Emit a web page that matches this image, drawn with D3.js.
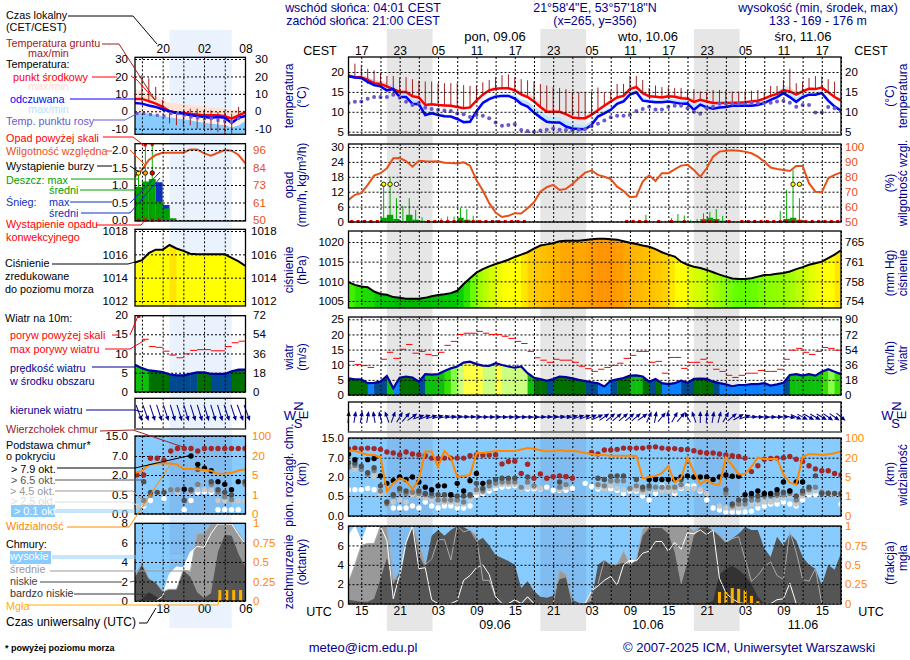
<!DOCTYPE html>
<html>
<head>
<meta charset="utf-8">
<script src="https://cdn.jsdelivr.net/npm/d3@7/dist/d3.min.js"></script>
<style>
body { margin: 0; background: #fff; }
text { font-family: "Liberation Sans", Arial, sans-serif; font-size: 12px; }
</style>
</head>
<body>
<div class="graphic"></div>
<script>
const n = null;

// main meteogram, hourly, starts 08.06 15:00 CEST
let tempMid = [19.1,18.7,18.7,18,17.2,17,16.4,15.7,15,15,
  13.9,13.6,11.7,11.9,11.7,11.6,11.5,11.2,10.9,11.1,
  12.8,14.3,15.4,15.8,15.9,15.9,15.4,14.4,13.7,12.6,
  11.2,10,10,10,9.4,8.6,8.4,8.4,9.2,10.4,
  11.5,12.6,13.6,14,15.7,16.2,14.7,13.9,13.8,13.6,
  13.9,13.8,13.4,13.3,12.5,13,12.6,12.2,12.2,12.2,
  12.3,12.3,12.4,12.6,12.8,13.3,14,14.5,15.4,15.1,
  14.3,15.1,15.8,15.7,16.1,14.9,13.7,12.8];
let tempFeel = [18.9,18.6,18.5,17.5,16.7,16.4,15.4,15.7,13.7,13.7,
  12,11.9,9.2,9.6,9.2,8.9,8.8,8.2,7.4,7.5,
  10.1,12.2,13.2,13.8,14,14,13.3,12,11.3,9.8,
  8.6,7.5,7.3,7.3,6.3,5.8,5.7,5.6,6.7,8.8,
  9.6,10.5,12,12.6,14.3,14.9,12.8,12.6,12.4,12.4,
  12.6,12.3,12,12.1,10.5,11.8,11.1,10.8,11.1,11.2,
  11.5,11.5,11.5,11.5,11.7,12.2,13,13.7,14.7,13.7,
  12.5,13.7,14.3,14.3,14.7,12.8,11.3,10.3];
let tempSpread = [.3,.3,.5,.8,.9,.8,1,1,1,1,
  .8,.8,.6,.4,.4,.3,.3,.3,.3,.3,
  .3,.4,.4,.4,.4,.4,.6,.8,1,1.2,
  1.2,1,1,1,1,1,.8,.8,.8,.6,
  .5,.5,.4,.4,.6,.6,.5,.4,.4,.4,
  .6,.6,.6,.8,.9,.6,.5,.4,.4,.4,
  .4,.4,.4,.4,.4,.4,.4,.4,1,1.2,
  .8,.6,.4,.4,.4,.4,.4,.4];
let groundMax = [23.5,22.1,21.6,20.8,20.4,19.7,19,19,18.6,18.7,
  18.2,17.8,17.6,17.6,17.2,17.2,17.2,17.2,16.7,16.5,
  16.5,17.4,18,18.7,19.2,19.4,18.7,18.2,17.9,17.6,
  17,16.6,16.2,16,15.7,15,14.9,15,15.1,16.1,
  14.9,15.1,17,17,19,19,18,16,16.6,16.2,
  16.2,16,16,15.5,15.7,15.1,15,15.5,15.5,15.4,
  15.1,15.1,15.1,15.3,15.5,14.9,16.5,16.5,18,20.8,
  17.2,17.6,18.5,19,18.9,18.2,17.6,n];
let groundMin = [19,18.7,18.7,17,17,17,16,15,15,15,
  14,13.5,12,12,12,11.5,11.5,11,11,11,
  13,14,15,16,16,16,15,14.5,14,12.5,
  11,10,10,10,9.5,9,8.5,8.5,9,10.5,
  11.5,13,13.5,14,16,16,15,14,14,13.5,
  14,14,13.5,13,12.5,13,12.5,12,12,12,
  12.5,12.5,12.5,12.5,13,13,14,14.5,15.5,15,
  14.5,15,16,15.5,16,15,14,n];
let dewPoint = [12.2,12.5,12.6,13.3,13.7,13.7,13.7,14.3,13.5,12.5,
  11.7,12.2,11,10.7,10.5,10.3,10.2,9.6,9.4,8.7,
  9.2,9,8.4,7.3,6.5,6.7,6.9,5.4,5.2,5,
  5.3,5.5,5.8,5.5,5.4,5.3,5.5,5.7,6.4,7,
  7.8,8.6,9,9,9.2,10.2,10.7,11.3,10.6,10.6,
  11.2,11.5,11.5,10.9,10,9.5,10.9,11.3,12,12,
  12,12,12,12.2,12.2,12.3,12.3,12.6,12.8,12.3,
  11.3,11.7,11.7,9.8,9.8,11.2,10.9,10.1];
let humidity = [64.5,67.9,69,74.6,80.8,82.4,85.7,92.4,92.6,90.6,
  86.8,90.8,90.4,90.2,90.4,89.5,89.2,89,89.7,87.5,
  77.9,70.8,62.3,56,53,53.8,55.6,55.4,58.9,62.9,
  70,73,74.6,71.2,71.9,75.2,79,82.8,84.2,81.3,
  80,78.4,73.4,70.5,66.3,66.7,76.8,81,77.2,82.4,
  82.4,85,87.5,88,84.6,80,85.7,93.5,96.9,97.5,
  97.8,97.5,96.9,95.8,93.5,90.2,86.2,85.3,84.6,83.9,
  87.3,87.3,75.7,70,69.6,79,81.3,83];

// precipitation is per hour interval, so one value less
let rainMax = [0,0,0,0,0,16,17.4,9.4,6.3,9.4,
  4.7,1.7,0,0,1.3,2,2,5.4,5,2.3,
  0,0,0,0,0,0,0,0,0,0,
  0,0,0,0,0,0,0,0,0,0,
  0,0,0,0,0,0,2.7,0,.3,.3,
  1.3,3,2.4,.7,1,3.3,3.9,5,2.3,0,
  0,0,0,0,0,0,0,4.3,12.7,20.8,
  9.4,0,0,0,0,0,0];
let rainMean = [0,0,0,0,0,1.5,2.7,1,0,2.7,
  .7,.3,0,0,.1,.1,.1,1.5,.7,.3,
  0,0,0,0,0,0,0,0,0,0,
  0,0,0,0,0,0,0,0,0,0,
  0,0,0,0,0,0,.2,0,0,0,
  .1,.3,.2,.1,.2,1,1.5,1,.3,0,
  0,0,0,0,0,0,0,.2,1,1.5,
  .7,0,0,0,0,0,0];
let convective = [0,1,2,3,4,12,13,14,15,16,17,18,19,20,21,22,23,24,25,26,27,
  43,44,45,46,48,50,52,55,56,57,59,61,62,63,64,65,66,67,68,69,70,71,72,73,74,75,76];
let stormHours = [5,6,7,69,70];
let stormColors = ["#ffff00","#ffff00","#ffffff","#ffff00","#ffff00"];

let pressure = [1009.8,1009.1,1008.7,1008.5,1007.4,1006.8,1006.6,1006,1005.8,1005.6,
  1005.6,1005.6,1005.8,1006.2,1006.5,1006.7,1007,1007.6,1009.3,1010.8,
  1012.2,1013.1,1013.8,1014.4,1014.9,1015.5,1016.2,1016.8,1017.4,1018.3,
  1019.1,1019.4,1019.7,1020.2,1020.3,1020.3,1020.3,1020.5,1020.7,1020.8,
  1020.8,1020.7,1020.6,1020.2,1019.8,1019.5,1019.1,1018.8,1018.2,1017.4,
  1016.8,1016.3,1015,1014.2,1013.7,1013.4,1012.9,1012.3,1011.7,1011.2,
  1010.7,1010.6,1010.6,1010.8,1011.2,1011.6,1011.7,1011.9,1012.1,1012.5,
  1013.1,1013.6,1014.2,1014.6,1015,1015.9,1016.8,1017.9];

let windSpeed = [5.5,5.2,5.2,3.9,4,4.4,6.3,2.2,5.7,6.1,
  5.8,4.4,6.9,6.7,6.9,7.9,8.8,9.4,10.7,11,
  10.2,9.7,9.6,10.5,9.9,9.4,9,9.4,7.2,5.7,
  5.3,4.7,5.3,6.1,5.9,5.5,5,4.6,4.2,3.9,
  2.8,4.7,5.2,5.6,6.4,6.5,6.1,4.4,5.3,3.9,
  3.6,3.9,4.7,4,5.3,5.4,5.3,4.4,3.9,3.5,
  2.9,3.3,3.3,3.6,3.6,3.9,3.1,3.5,4,6.6,
  6.9,6.4,6.9,6.4,7.7,8.5,7.7,6.9];
let windGust = [11.1,10.1,9.7,9.1,n,11.8,14.1,12.1,15.1,16.7,
  13.8,14.4,13.4,13,14.1,16.4,17.7,20,20.4,20.4,
  21,20.4,20,20,19.4,18.7,17.7,17,14.4,12.3,
  11.5,10.8,11.8,11.5,11.5,10.8,9.5,8.7,7.8,8.5,
  9.1,9.8,10.5,12.1,13.1,14.4,14.4,10.8,11.1,7.2,
  12.4,12.4,8.8,10.8,10.8,11.8,10.8,8.5,7.8,6.5,
  5.8,6.5,7.2,7.2,8.1,7.8,7.8,8.5,11.8,14.8,
  15.4,14.1,13.4,14.4,15.7,15.4,14.8];
let windDir = [5,10,10,10,-10,-15,-20,20,30,40,
  55,70,70,72,75,78,80,80,82,85,
  88,90,90,90,92,92,92,92,92,90,
  88,85,82,80,78,75,72,70,68,65,
  55,50,50,50,50,50,55,25,10,40,
  -5,30,40,-30,-20,0,5,10,15,30,
  50,60,70,85,90,92,90,88,85,100,
  115,118,120,120,120,125,125,130];

let baseTop = [10.6,10.9,10.7,10.9,10.7,10.4,9.3,8.9,8.2,9.3,
  8.5,8.2,7.8,6.9,6.8,6.9,6.9,6.9,6.9,7.8,
  8.1,8.1,8.1,8.2,5.4,6,6.1,2.9,5.3,1.9,
  2.8,1.9,2.1,2.3,2.1,1.9,n,n,9.1,8.5,
  10.1,10.1,10.4,10.9,10.9,10.9,10.9,11.3,11.4,10.9,
  10.7,10.7,10.3,10.3,9.8,9.2,8.9,8.9,8.5,8.1,
  7.8,7.5,6.9,3.4,4.9,6.6,6.8,6.9,7,7.5,
  6.6,6,4.9,4.1,3.6,3.6,2.9,2.5];
let baseBlack = [8.4,6.5,n,6.5,6.8,2.3,1.5,1.7,2,1.8,
  2,1.6,1.2,1,1.3,1.3,.6,1.5,.9,1.7,
  2.9,1.5,n,n,n,n,n,n,n,n,
  n,n,n,n,n,n,n,n,n,n,
  n,n,n,n,n,n,n,1.8,1.8,1.8,
  1.8,1.8,2,2.3,2,2,2,1.8,2,2.5,
  2.2,2.2,.6,.7,.9,.7,.7,1,1.6,.9,
  1.6,1.6,n,n,n,n,n,n];
let baseDark = [5.7,5.6,4.8,3.1,4.4,1.3,.35,.6,1.1,.9,
  n,.9,.7,.7,.6,.6,.6,.5,.5,.6,
  1.5,1.1,1.6,1.8,1.9,1.9,1.9,n,2,n,
  n,n,n,1.6,2.1,n,n,n,n,1.9,
  1.8,2.2,2.3,2.3,n,1.8,1.2,1.3,n,n,
  n,n,1.8,n,n,n,n,n,n,1,
  .3,.4,.4,.5,.5,.6,.6,.7,.8,.9,
  .5,.9,1.2,2.3,.7,.7,.7,.7];
let baseGrey = [4.5,5,4,2.7,3.7,.9,.3,.5,.9,.7,
  .8,.7,.6,.5,.4,.4,.4,.4,.35,.5,
  1,.9,1.3,1.5,1.6,1.6,1.6,1.2,1.6,1.3,
  n,n,n,1.2,1.4,n,n,n,n,1.4,
  1.3,1.7,1.7,1.7,1.1,1.3,1,1.1,1.2,1.2,
  1.2,1.2,1.4,n,n,n,n,n,n,.7,
  .25,.3,.3,.4,.4,.5,.5,.55,.6,.7,
  .4,.7,1,1.2,.8,.75,.7,.6];
let baseLight = [n,4,n,n,2.2,.7,.3,.35,.4,.35,
  .6,.5,.45,.4,.35,.35,.35,.3,.3,.4,
  .8,.8,1.1,1.3,1.4,1.4,1.4,1.1,1.2,1.2,
  1.1,n,n,1,1.2,n,n,n,n,1.2,
  1.1,1.3,1.1,1,1,1,.8,.9,1,.9,
  .9,.9,1.2,1.1,1.1,1,.7,n,.25,.2,
  .2,.2,.25,.3,.3,.35,.35,.4,.45,.5,
  .3,.5,.8,.9,.8,.7,.65,.6];
let baseWhite = [1,1,1,1.1,1,.9,.3,.2,.2,.2,
  .25,.2,.35,.25,.2,.25,.25,.2,.2,.25,
  .55,.7,.9,1.1,1.2,1.25,1.3,1.2,1.05,1.05,
  1.05,1.2,.95,.95,.95,1.1,n,1.5,1.25,1.05,
  1.1,1.05,.95,.7,.9,.9,.5,.4,.7,1.3,
  1.2,.7,1.1,1.3,1.3,.9,.4,.2,.15,.1,
  .1,.1,.1,.12,.2,.25,.3,.3,.35,.3,
  .25,.4,.6,.6,.7,.65,.65,.3];
let visibility = [47,47,39,31,31,23,2,3.7,4.7,4.2,
  2.4,4.4,45,45,13,47,20,5,5.8,6.5,
  38,40,43,47,47,47,47,53,59,56,
  50,46,47,50,47,47,45,39,35,31,
  31,28,28,28,28,27,4.7,5,5.8,8,
  13.5,3.9,4.7,21,9,3.5,4.4,3.5,3.4,21,
  14,7,7.5,13,21,19,19,19,7,3.8,
  3.4,25,34,34,31,34,38,45];

let cloudHigh = [7,8,6.4,8,8,8,6.5,.5,3,6.3,
  8,3.6,3.7,.4,0,0,0,.3,2.4,2.9,
  3.7,4,3,.7,0,0,.4,0,.7,0,
  0,0,0,0,0,0,0,0,1.3,1.8,
  2.4,2.8,1.9,4,4.5,4.4,5.2,5.4,6.4,6.4,
  5.4,6.3,5.6,7.3,7.2,7.6,7.1,7.6,2.6,1.1,
  .5,.1,0,0,0,0,0,.4,.5,2.1,
  0,0,0,0,0,0,0,0];
let cloudMid = [2.2,4,6,6.2,6.2,8,8,2.6,2.5,6.3,
  8,6.3,4,4.6,6.6,6.6,4.5,8,7.4,7.6,
  7,2.4,2.4,.7,0,0,.4,0,.7,0,
  0,0,0,3.4,3,0,0,0,1.3,2,
  4.5,4,4,5.4,4,4.5,7.7,7.9,7.9,7.9,
  8,8,8,8,7.5,7.9,7.9,7.6,7,6.3,
  6.7,6.9,4.6,2.3,2.9,3.8,4.3,2.9,2.5,7.4,
  5.3,2.5,2.3,3.6,0,0,0,0];
let cloudLow = [.4,.3,.2,.2,.5,2.5,4.7,2,3.3,6.3,
  8,5,3.7,7,7.6,7,7.6,8,7.9,7.5,
  6.4,6.8,6,5,4.7,4.4,4,1.6,2.3,1.3,
  .7,.6,.8,2.5,2.7,.4,.1,0,.3,4,
  4.5,4,4,4.2,4,4.5,7,7.8,7.8,7.8,
  7.2,5.3,1.9,4.3,7,7.9,7.9,7.6,7,6.3,
  6.7,7.2,7.9,7.6,7.6,5.7,4.8,6.9,6,7.2,
  6.5,4.8,4,3.6,1.9,4,3.5,5.2];
let cloudVeryLow = [0,0,0,0,0,0,0,0,0,0,
  0,0,0,0,0,0,0,0,0,0,
  0,0,0,0,0,0,0,0,0,0,
  0,0,0,0,0,0,0,0,0,0,
  0,0,0,0,0,0,0,0,0,0,
  0,0,0,0,0,0,0,.3,3,3.6,
  3.9,3.5,2.9,2,.7,0,0,0,0,0,
  0,0,0,0,0,0,0,0];
let fogHours = [58,59,60,61,62,63,64];
let fogValues = [.15,.15,.2,.19,.17,.1,.03];

// small panel on the left, 16:00 to 08:00
let miniTempMid = [7.1,7.1,5.8,4.4,2.5,0,-.8,-.8,-1.5,-1.9,-2.3,-2.3,-2.3,-2.9,-4.2,-2.3,-.6];
let miniTempFeel = [4.8,4.4,3.3,2.5,1.2,0,-1,-1.3,-2.3,-2.7,-3.3,-3.7,-3.3,-3.7,-6.7,-3.7,-2.7];
let miniTempMax = [13,11.5,10,8.5,6.5,5,4.5,4,3.5,3,3,2.5,2,1.5,1,.5,.5];
let miniFeelMin = [-1,-1,-1.2,-2,-2.5,-3.5,-4,-4.5,-5,-6,-6.5,-7,-7.5,-8,-9,-8,-5.5];
let miniGroundMax = [n,20.8,18.9,14,6.5,0.6,-.4,-.4,1.5,1.5,.6,.6,-.4,-.4,-1.3,2.5,n];
let miniGroundMin = [n,5.4,5,6.5,.6,-7,-8,-9,-8,-10,-10,-11,-12,-13,-13,-5,n];
let miniDew = [-1.3,-1.3,-1.9,-2.3,-2.7,-1.3,-1.3,-2.3,-3.3,-3.8,-4.2,-4.2,-5.2,-5.6,-6.2,-4.2];
let miniHumidity = [78.5,82.9,89.4,92.7,94.2,94.2,94.2,94.2,96.4,96.4,93.8,92.3,94.2,96,95.5,92.7,87.2];
let miniRainMax = [1.4,2.15,2.15,n,n,n,n,n,n,n,n,n,n,n,n,n];
let miniRainMean = [.95,1.1,1.17,.52,.33,.05,0,0,0,0,0,0,0,0,0,0];
let miniSnowMax = [0,0,0,1.08,.43,0,0,0,0,0,0,0,0,0,0,0];
let miniConvective = [0,1,2,3];
let miniAboveScale = [1,2];
let miniStormColors = ["#ffff00","#ffa500","#ff0000"];
let miniPressure = [1015.3,1015.5,1016.1,1016.4,1016.4,1016.8,1016.5,1016.3,1016.05,1016,1016,1016,1016,1016,1015.7,1015.4,1015];
let miniWind = [7.1,6.2,5.6,5.4,5.2,4.6,4.3,4.3,4.7,5.1,5.1,4.7,4.7,4.7,5.4,5.8,5.8];
let miniGust = [n,13.7,11.8,11.6,10.6,9.6,8.9,9.9,10.8,11,11,10.7,10.7,11.8,12.8,13.2];
let miniDir = [160,160,162,162,162,163,163,163,163,163,163,163,163,162,162,160,160];
let miniTop = [2,2,6.4,6.4,5.9,9,10,10,10,9,10,10,10,10,10,10,10];
let miniBlack = [n,n,n,n,n,n,n,.93,7,4.8,3.8,3.1,1.5,1.3,.9,1.5,n];
let miniDark = [n,1.5,.7,.7,.7,n,n,.35,.9,3.5,n,1.5,.9,.7,.5,n,1.5];
let miniGrey = [n,.35,.5,n,n,.9,.9,n,.8,1.3,n,1.3,.7,.45,.37,n,1.3];
let miniLight = [.2,.25,n,n,n,.9,.7,n,.7,.9,.9,.85,.35,.35,.35,.35,.36];
let miniWhite = [n,.2,.35,n,.4,n,n,.1,.35,.7,.75,.7,.1,.1,.1,.1,n];
let miniVis = [6.7,8,13,14,14,14,13.5,10,9.7,9.5,9,8.4,6,6.2,6.7,8.5,9.5];
let miniHigh = [0,0,0,0,.5,2.8,3.5,3.4,5,5.6,5.5,6.9,7.9,7.9,7.9,6.8,5.8];
let miniMid = [2.5,3.8,2.3,1.9,1,1.2,1.2,3.2,3,6.9,6.9,7.9,7.9,7.9,7.9,7,5.9];
let miniLow = [2.6,3.9,2.3,1.9,1,1.2,1.2,3.1,2.5,.9,.3,.8,5,6.8,6.7,4.8,3.5];
let miniVeryLow = [0,.2,.9,.5,0,0,0,0,0,0,0,0,0,0,0,0,0];
let miniFogHours = [12,13,14,15];
let miniFogValues = [.14,.14,.14,.14];

let localLabels = ["17","23","05","11","17","23","05","11","17","23","05","11","17"];
let utcLabels = ["15","21","03","09","15","21","03","09","15","21","03","09","15"];
let nightStart = [6,30,54];
let nightEnd = [13.15,37.15,61.15];

let legendTexts = [
  [6,19,"Czas lokalny","#000"],[6,31,"(CET/CEST)","#000"],
  [6,47,"Temperatura gruntu","#a02020"],[28,57,"max/min","#a02020"],
  [6,68,"Temperatura:","#000"],[13,81,"punkt środkowy","#f00"],[28,90,"max/min","#ffdcd0"],
  [10,103,"odczuwana","#00f"],[28,113,"max/min","#b8e2ff"],[6,125,"Temp. punktu rosy","#6a5acd"],
  [6,142,"Opad powyżej skali","#f00"],[6,155,"Wilgotność względna","#e8501a"],
  [6,170,"Wystąpienie burzy","#000"],[6,184,"Deszcz: max","#00a000"],[49,194,"średni","#00a000"],
  [6,206,"Śnieg:","#1030c0"],[49,206,"max","#1030c0"],[49,217,"średni","#1030c0"],
  [6,228,"Wystąpienie opadu","#f00"],[6,241,"konwekcyjnego","#f00"],
  [5,267,"Ciśnienie","#000"],[5,280,"zredukowane","#000"],[5,293,"do poziomu morza","#000"],
  [5,322,"Wiatr na 10m:","#000"],[10,339,"poryw powyżej skali","#f00"],[10,353,"max porywy wiatru","#f00"],
  [10,372,"prędkość wiatru","#000090"],[10,385,"w środku obszaru","#000090"],
  [10,414,"kierunek wiatru","#000090"],[6,433,"Wierzchołek chmur","#a02020"],
  [6,449,"Podstawa chmur*","#000"],[6,460,"o pokryciu","#000"],
  [11,473,"> 7.9 okt.","#000"],[11,484,"> 6.5 okt.","#555"],[10,495,"> 4.5 okt.","#999"],[11,505,"> 2.5 okt.","#ddd"],
  [14,515,"> 0.1 okt.","#fff"],[6,530,"Widzialność","#ff8800"],
  [6,548,"Chmury:","#000"],[10,560,"wysokie","#fff"],[10,573,"średnie","#999"],
  [10,585,"niskie","#444"],[10,597,"bardzo niskie","#333"],[6,610,"Mgła","#ffb000"]
];
let leaders = [
  ["#000",[[68,16],[133,16],[157,44]]],
  ["#a02020",[[102,44],[119,44],[155,100]]],
  ["#f00",[[92,77],[117,77]]],["#f00",[[131,76],[137,80],[155,100]]],
  ["#00f",[[70,99],[135,99]]],
  ["#6a5acd",[[94,120],[125,120],[140,112]]],
  ["#f00",[[103,137],[133,137],[146,147]]],
  ["#e8501a",[[106,151],[112,151]]],["#e8501a",[[130,150],[145,165]]],
  ["#000",[[97,166],[112,166]]],["#000",[[130,166],[139,172]]],
  ["#00a000",[[71,179],[138,179]]],["#00a000",[[80,190],[140,190]]],
  ["#1030c0",[[70,202],[112,202]]],["#1030c0",[[130,203],[160,172]]],
  ["#1030c0",[[81,213],[130,213],[160,178]]],
  ["#f00",[[96,225],[141,225],[146,219]]],
  ["#000",[[52,264],[128,264],[135,262]]],
  ["#f00",[[112,335],[118,335]]],["#f00",[[130,335],[138,316]]],
  ["#f00",[[105,349],[130,349],[145,340]]],
  ["#000090",[[92,367],[135,367]]],
  ["#000090",[[86,410],[135,410],[142,412]]],
  ["#a02020",[[100,431],[133,430],[183,447]]],
  ["#000",[[57,468],[135,468],[192,455]]],
  ["#555",[[55,480],[143,480]]],
  ["#999",[[55,491],[133,491],[143,501]]],
  ["#ddd",[[55,502],[130,502],[137,505]]],
  ["#88ccff",[[55,510],[135,510]]],["#88ccff",[[55,512],[135,512]]],
  ["#ff8800",[[67,527],[129,527],[170,465]]],
  ["#88ccff",[[52,556],[185,556]]],["#88ccff",[[52,558],[185,558]]],
  ["#999",[[50,571],[190,571]]],
  ["#444",[[40,582],[122,582]]],["#444",[[130,582],[135,581]]],
  ["#333",[[74,594],[135,594],[150,595]]],
  ["#ffb000",[[27,605],[218,605],[220,593]]],
  ["#000",[[139,623],[147,623],[156,608]]]
];
// rotated axis titles: x of baseline, centre y, text
let sideTitles = [
  [293,96,"temperatura"],[306,97,"(°C)"],
  [293,185,"opad"],[306,185,"(mm/h, kg/m³/h)"],
  [293,270,"ciśnienie"],[306,270,"(hPa)"],
  [293,357,"wiatr"],[306,357,"(m/s)"],
  [293,475,"pion. rozciągł. chm."],[306,474,"(km)"],
  [293,572,"zachmurzenie"],[306,562,"(oktanty)"],
  [894,96,"(°C)"],[907,96,"temperatura"],
  [894,183,"(%)"],[907,183,"wilgotność wzgl."],
  [894,273,"(mm Hg)"],[907,273,"ciśnienie"],
  [894,358,"(km/h)"],[907,358,"wiatr"],
  [894,474,"(km)"],[907,475,"widzialność"],
  [894,563,"(frakcja)"],[907,558,"mgła"]
];

let svg = d3.select(".graphic").append("svg").attr("width", 910).attr("height", 660).style("display", "block");

const NAVY = "#000090";
const SKY = "#88ccff";
const ORANGE = "#ff8800";
const HUM = "#e8501a";

let x = d3.scaleLinear().domain([0, 77]).range([348.5, 841]);
let xm = d3.scaleLinear().domain([0, 16]).range([135, 245.5]);
let xd = d3.scaleLinear().domain([0, 16]).range([137, 245]);
let idx = (_, i) => i;

const pressureColor = d3.scaleLinear()
  .domain([1005,1007,1009,1010.7,1012,1013.5,1015,1016.5,1017,1019,1020,1020.7,1021])
  .range(["#00b000","#00c800","#22e000","#66ff00","#99ff00","#ccff00","#ffff00","#ffff00","#ffd400","#ffc000","#ffb000","#ff9900","#ff8800"]);
const windColor = d3.scaleThreshold()
  .domain([3.95,5,6.2,7.6,8.4,9,10])
  .range(["#0a82ff","#004a8f","#007000","#0cc00c","#33e000","#88ff44","#ccff80","#ffff44"]);

// night bands behind everything
let bands = svg.append("g");
bands.append("rect").attr("x", xm(5)).attr("width", xm(14) - xm(5)).attr("y", 30).attr("height", 598).attr("fill", "#eaf2fd");
nightStart.forEach((s, k) => {
  bands.append("rect").attr("x", x(s)).attr("width", x(nightEnd[k]) - x(s)).attr("y", 29).attr("height", 602).attr("fill", "#e6e6e6");
});

let clipCount = 0;
function clipRect(x0, x1, y0, y1) {
  let id = "clip" + (clipCount++);
  svg.append("clipPath").attr("id", id).append("rect").attr("x", x0).attr("y", y0).attr("width", x1 - x0).attr("height", y1 - y0);
  return "url(#" + id + ")";
}

function line(g, xs, ys, color, width) {
  let gen = d3.line().defined(d => d != null).x((d, i) => xs(i)).y(d => ys(d));
  return values => g.append("path").attr("d", gen(values)).attr("fill", "none").attr("stroke", color).attr("stroke-width", width);
}

function band(g, xs, ys, lo, hi, color) {
  let gen = d3.area().x((d, i) => xs(i)).y0(d => ys(lo[d])).y1(d => ys(hi[d]));
  g.append("path").attr("d", gen(lo.map(idx))).attr("fill", color);
}

function drawGrid(g, xs, hours, ys, ticks, x0, x1, y0, y1) {
  let gy = g.append("g").attr("transform", `translate(${x0},0)`)
    .call(d3.axisRight(ys).tickValues(ticks).tickSize(x1 - x0).tickFormat(""));
  let gx = g.append("g").attr("transform", `translate(0,${y0})`)
    .call(d3.axisBottom(xs).tickValues(hours).tickSize(y1 - y0).tickFormat(""));
  [gy, gx].forEach(a => {
    a.select(".domain").remove();
    a.selectAll("line").attr("stroke", "#000").attr("stroke-dasharray", "2,2").attr("stroke-width", 1);
  });
}

function frame(x0, x1, y0, y1, bottomColor) {
  svg.append("rect").attr("x", x0).attr("y", y0).attr("width", x1 - x0).attr("height", y1 - y0)
    .attr("fill", "none").attr("stroke", "#000").attr("stroke-width", 1.3);
  if (bottomColor) {
    svg.append("line").attr("x1", x0).attr("x2", x1).attr("y1", y1).attr("y2", y1)
      .attr("stroke", bottomColor).attr("stroke-width", 2);
  }
}

function labels(ys, ticks, xPos, left, color, fmt) {
  let axis = (left ? d3.axisLeft(ys) : d3.axisRight(ys)).tickValues(ticks).tickSize(0).tickPadding(0);
  if (fmt) axis.tickFormat(fmt); else axis.tickFormat(d => d);
  let a = svg.append("g").attr("transform", `translate(${xPos},0)`).call(axis);
  a.select(".domain").remove();
  a.attr("font-size", null).attr("font-family", null);
  a.selectAll("text").attr("fill", color).style("font-size", "11.5px");
  return a;
}

function listLabel(ticks, names) {
  return d => names[ticks.indexOf(d)];
}

function dots(g, xs, ys, values, color, r) {
  g.selectAll(null).data(values.map((v, i) => [i, v]).filter(d => d[1] != null)).join("circle")
    .attr("cx", d => xs(d[0])).attr("cy", d => ys(d[1])).attr("r", r).attr("fill", color);
}

function arrows(g, xs, dirs, cy, len) {
  dirs.forEach((d, i) => {
    let a = g.append("g").attr("transform", `translate(${xs(i)},${cy}) rotate(${d})`);
    a.append("line").attr("x1", 0).attr("x2", 0).attr("y1", len / 2).attr("y2", -len / 2 + 3)
      .attr("stroke", "#000090").attr("stroke-width", 1);
    a.append("path").attr("d", `M0,${-len / 2} L2.2,${-len / 2 + 5} L-2.2,${-len / 2 + 5} Z`).attr("fill", "#000090");
  });
}

// main
let tempY = d3.scaleLinear().domain([20, 5]).range([72, 131.7]);
let tempBox = [348.5, 841, 57, 135];
let mainHours = d3.range(2, 78, 3);
let tempG = svg.append("g").attr("clip-path", clipRect(...tempBox));
let spreadHi = tempMid.map((v, i) => v + tempSpread[i]);
let spreadLo = tempMid.map((v, i) => v - tempSpread[i] * 0.3);
let feelHi = tempFeel.map((v, i) => v + tempSpread[i] * 1.4);
let feelLo = tempFeel.map((v, i) => v - tempSpread[i] * 0.4);
band(tempG, x, tempY, spreadLo, spreadHi, "#ffdcdc");
band(tempG, x, tempY, feelLo, feelHi, "#bfe4ff");
groundMax.forEach((v, i) => {
  if (v == null) return;
  tempG.append("line").attr("x1", x(i)).attr("x2", x(i)).attr("y1", tempY(v)).attr("y2", tempY(groundMin[i]))
    .attr("stroke", "#a02020").attr("stroke-width", 1);
});
line(tempG, x, tempY, "#f00", 2.5)(tempMid);
line(tempG, x, tempY, "#00f", 2.5)(tempFeel);
dots(tempG, x, tempY, dewPoint, "#6a5acd", 2);
drawGrid(svg, x, mainHours, tempY, [5,10,15,20], 348.5, 841, 57, 135);
frame(348.5, 841, 57, 135, "#555");
labels(tempY, [5,10,15,20], 344, true, "#000");
labels(tempY, [5,10,15,20], 845, false, "#000");

// rain + humidity
let rainY = d3.scaleLinear().domain([0, 30]).range([221.5, 147]);
let humY = d3.scaleLinear().domain([50, 100]).range([221.5, 147]);
let rainG = svg.append("g").attr("clip-path", clipRect(348.5, 841, 144, 222));
rainMean.forEach((v, i) => {
  if (v > 0) rainG.append("rect").attr("x", x(i)).attr("width", x(i + 1) - x(i)).attr("y", rainY(v)).attr("height", rainY(0) - rainY(v)).attr("fill", "#00a000");
});
rainMax.forEach((v, i) => {
  if (v > 0) rainG.append("line").attr("x1", x(i + .5)).attr("x2", x(i + .5)).attr("y1", rainY(v)).attr("y2", rainY(0)).attr("stroke", "#00b000").attr("stroke-width", 1);
});
drawGrid(svg, x, mainHours, rainY, [0,6,12,18,24,30], 348.5, 841, 144, 222);
line(svg, x, humY, HUM, 2)(humidity);
svg.selectAll(null).data(convective).join("rect")
  .attr("x", d => x(d + .5) - 1.5).attr("y", rainY(0) - 1.5).attr("width", 3).attr("height", 3).attr("fill", "#e00000");
stormHours.forEach((h, k) => {
  svg.append("circle").attr("cx", x(h + .5)).attr("cy", rainY(15)).attr("r", 2.2)
    .attr("fill", stormColors[k]).attr("stroke", "#000").attr("stroke-width", .8);
});
frame(348.5, 841, 144, 222);
labels(rainY, [0,6,12,18,24,30], 344, true, "#000");
labels(humY, [50,60,70,80,90,100], 845, false, HUM);

// pressure
let presY = d3.scaleLinear().domain([1005, 1020]).range([301, 242]);
let presBox = [348.5, 841, 231, 308];
svg.append("clipPath").attr("id", "presClip").append("path")
  .attr("d", d3.area().x((d, i) => x(i)).y0(308).y1(d => presY(d))(pressure));
let presG = svg.append("g").attr("clip-path", "url(#presClip)");
pressure.slice(0, -1).forEach((v, i) => {
  presG.append("rect").attr("x", x(i)).attr("width", x(i + 1) - x(i) + .5).attr("y", 231).attr("height", 77).attr("fill", pressureColor(v));
});
drawGrid(svg, x, mainHours, presY, [1005,1010,1015,1020], 348.5, 841, 231, 308);
line(svg, x, presY, "#000", 2)(pressure);
frame(...presBox);
labels(presY, [1005,1010,1015,1020], 344, true, "#000");
labels(presY, [1005,1010,1015,1020], 845, false, "#000", listLabel([1005,1010,1015,1020], ["754","758","761","765"]));

// wind
let windY = d3.scaleLinear().domain([0, 25]).range([395, 319.3]);
let kmhY = d3.scaleLinear().domain([0, 90]).range([395, 319.3]);
svg.append("clipPath").attr("id", "windClip").append("path")
  .attr("d", d3.area().x((d, i) => x(i)).y0(395).y1(d => windY(d))(windSpeed));
let windG = svg.append("g").attr("clip-path", "url(#windClip)");
windSpeed.slice(0, -1).forEach((v, i) => {
  windG.append("rect").attr("x", x(i)).attr("width", x(i + 1) - x(i) + .5).attr("y", 317).attr("height", 78).attr("fill", windColor(v));
});
drawGrid(svg, x, mainHours, windY, [0,5,10,15,20,25], 348.5, 841, 317, 395);
line(svg, x, windY, "#0000a0", 2.2)(windSpeed);
windGust.forEach((v, i) => {
  if (v == null) return;
  svg.append("line").attr("x1", x(i)).attr("x2", x(i + 1)).attr("y1", windY(v)).attr("y2", windY(v)).attr("stroke", "#f00").attr("stroke-width", 1);
});
frame(348.5, 841, 317, 395);
labels(windY, [0,5,10,15,20,25], 344, true, "#000");
labels(kmhY, [0,18,36,54,72,90], 845, false, "#000");

// wind direction
drawGrid(svg, x, mainHours, d3.scaleLinear().domain([0,1]).range([0,1]), [], 348.5, 841, 402, 432);
arrows(svg.append("g"), x, windDir, 417, 12);
frame(348.5, 841, 402, 432, "#777");

function compass(shift) {
  let t = svg.append("g").attr("transform", `translate(${shift},0)`);
  let letter = (node, s) => node.attr("text-anchor", "middle").attr("fill", NAVY).style("font-size", "13px").text(s);
  letter(t.append("text").attr("x", 290).attr("y", 420), "W");
  letter(t.append("text").attr("x", 298).attr("y", 428), "S");
  letter(t.append("text").attr("transform", "translate(303,406) rotate(-90)"), "N");
  letter(t.append("text").attr("transform", "translate(308,415) rotate(-90)"), "E");
}
compass(0);
compass(597.5);

// cloud base panel, equal spacing between uneven ticks
let baseY = d3.scaleLinear().domain([0,.5,2,7,15]).range([516,496,477,457.7,438]);
let visY = d3.scaleLinear().domain([0,1,5,20,100]).range([516,496,477,457.7,438]);
function skyPanel(x0, x1, y0, y1, shadeFrom, shadeTo, shade) {
  svg.append("rect").attr("x", x0).attr("y", y0).attr("width", x1 - x0).attr("height", y1 - y0).attr("fill", SKY);
  shadeFrom.forEach((s, k) => {
    svg.append("rect").attr("x", s).attr("width", shadeTo[k] - s).attr("y", y0).attr("height", y1 - y0).attr("fill", shade);
  });
}
let mainShadeFrom = nightStart.map(h => x(h));
let mainShadeTo = nightEnd.map(h => x(h));
skyPanel(348.5, 841, 438, 516, mainShadeFrom, mainShadeTo, "#80bcf0");
drawGrid(svg, x, mainHours, baseY, [0,.5,2,7,15], 348.5, 841, 438, 516);
let baseG = svg.append("g").attr("clip-path", clipRect(348.5, 841, 438, 516));
dots(baseG, x, baseY, baseWhite, "#fff", 2.7);
dots(baseG, x, baseY, baseLight, "#c8c8c8", 2.7);
dots(baseG, x, baseY, baseGrey, "#808080", 2.7);
dots(baseG, x, baseY, baseDark, "#505050", 2.7);
dots(baseG, x, baseY, baseBlack, "#000", 2.7);
dots(baseG, x, baseY, baseTop, "#a02828", 2.7);
line(baseG, x, visY, ORANGE, 2)(visibility);
frame(348.5, 841, 438, 516);
labels(baseY, [0,.5,2,7,15], 344, true, "#000", d3.format(".1f"));
labels(visY, [0,1,5,20,100], 845, false, ORANGE);

// clouds
let cloudY = d3.scaleLinear().domain([0, 8]).range([603.6, 526]);
let fracY = d3.scaleLinear().domain([0, 1]).range([603.6, 526]);
function cloudArea(g, xs, ys, values, color) {
  g.append("path").attr("d", d3.area().x((d, i) => xs(i)).y0(ys(0)).y1(d => ys(d))(values)).attr("fill", color);
}
skyPanel(348.5, 841, 526, 604, mainShadeFrom, mainShadeTo, "#80bcf0");
let cloudG = svg.append("g").attr("clip-path", clipRect(348.5, 841, 526, 604));
cloudArea(cloudG, x, cloudY, cloudHigh, "#fff");
cloudArea(cloudG, x, cloudY, cloudMid, "#999");
cloudArea(cloudG, x, cloudY, cloudLow, "#555");
cloudArea(cloudG, x, cloudY, cloudVeryLow, "#333");
line(cloudG, x, cloudY, "#aaa", 1)(cloudMid);
line(cloudG, x, cloudY, "#fff", 1)(cloudHigh);
fogHours.forEach((h, k) => {
  cloudG.append("rect").attr("x", x(h) - 1.5).attr("width", 3).attr("y", fracY(fogValues[k])).attr("height", fracY(0) - fracY(fogValues[k])).attr("fill", "#ffb000");
});
drawGrid(svg, x, mainHours, cloudY, [0,2,4,6,8], 348.5, 841, 526, 604);
frame(348.5, 841, 526, 604);
labels(cloudY, [0,2,4,6,8], 344, true, "#000");
labels(fracY, [0,.25,.5,.75,1], 845, false, ORANGE);

// time axes of the main panel
let timeTicks = d3.range(2, 75, 6);
let topAxis = svg.append("g").attr("transform", "translate(0,55)")
  .call(d3.axisTop(x).tickValues(timeTicks).tickSize(0).tickPadding(0).tickFormat((d, i) => localLabels[i]));
topAxis.select(".domain").remove();
let bottomAxis = svg.append("g").attr("transform", "translate(0,606)")
  .call(d3.axisBottom(x).tickValues(timeTicks).tickSize(0).tickPadding(0).tickFormat((d, i) => utcLabels[i]));
bottomAxis.select(".domain").remove();
[topAxis, bottomAxis].forEach(a => a.selectAll("text").attr("fill", "#000").style("font-size", "12px"));

// ---- small panels
let mTempY = d3.scaleLinear().domain([30, -10]).range([59, 128.7]);
let mTempBox = [135, 245.5, 57.3, 134.3];
let mTempG = svg.append("g").attr("clip-path", clipRect(...mTempBox));
mTempG.append("path").attr("d", d3.area().x((d, i) => xm(i)).y0(134.3).y1(d => mTempY(d))(miniFeelMin)).attr("fill", SKY);
band(mTempG, xm, mTempY, miniFeelMin, miniTempFeel, "#fff0e8");
band(mTempG, xm, mTempY, miniTempMid, miniTempMax, "#ffe2d4");
miniGroundMax.forEach((v, i) => {
  if (v == null) return;
  mTempG.append("line").attr("x1", xm(i)).attr("x2", xm(i)).attr("y1", mTempY(v)).attr("y2", mTempY(miniGroundMin[i])).attr("stroke", "#a02020").attr("stroke-width", 1);
});
line(mTempG, xm, mTempY, "#f00", 2.5)(miniTempMid);
line(mTempG, xm, mTempY, "#00f", 2.5)(miniTempFeel);
miniDew.forEach((v, i) => {
  mTempG.append("rect").attr("x", xd(i) - 1.5).attr("y", mTempY(v) - 1.5).attr("width", 3).attr("height", 3).attr("fill", "#6a5acd");
});
let miniHours = [1,4,7,10,13];
drawGrid(svg, xm, miniHours, mTempY, [-10,0,10,20,30], 135, 245.5, 57.3, 134.3);
frame(...mTempBox);
labels(mTempY, [-10,0,10,20,30], 128, true, "#000");
labels(mTempY, [-10,0,10,20,30], 255, false, "#000");

let mRainY = d3.scaleLinear().domain([0, 2]).range([220, 150]);
let mHumY = d3.scaleLinear().domain([50, 96]).range([220, 150]);
let mRainG = svg.append("g").attr("clip-path", clipRect(135, 245.5, 143.7, 221));
miniSnowMax.forEach((v, i) => {
  if (v > 0) mRainG.append("rect").attr("x", xm(i)).attr("width", xm(i + 1) - xm(i)).attr("y", mRainY(v)).attr("height", mRainY(0) - mRainY(v)).attr("fill", "#1030c0");
});
miniRainMean.forEach((v, i) => {
  if (v > 0) mRainG.append("rect").attr("x", xm(i)).attr("width", xm(i + 1) - xm(i)).attr("y", mRainY(v)).attr("height", mRainY(0) - mRainY(v)).attr("fill", "#00a000");
});
miniRainMax.forEach((v, i) => {
  if (v) mRainG.append("line").attr("x1", xm(i + .5)).attr("x2", xm(i + .5)).attr("y1", mRainY(v)).attr("y2", mRainY(0)).attr("stroke", "#00b000").attr("stroke-width", 1);
});
drawGrid(svg, xm, miniHours, mRainY, [0,.5,1,1.5,2], 135, 245.5, 143.7, 221);
line(mRainG, xm, mHumY, HUM, 2)(miniHumidity);
miniAboveScale.forEach(i => {
  svg.append("rect").attr("x", xm(i + .5) - 1.5).attr("y", mRainY(2.15) - 1.5).attr("width", 3).attr("height", 3).attr("fill", "#f00");
});
miniConvective.forEach(i => {
  svg.append("rect").attr("x", xm(i + .5) - 1.5).attr("y", mRainY(0) - 1.5).attr("width", 3).attr("height", 3).attr("fill", "#e00000");
});
miniStormColors.forEach((c, i) => {
  svg.append("circle").attr("cx", xm(i + .5)).attr("cy", 173).attr("r", 2.2).attr("fill", c).attr("stroke", "#000").attr("stroke-width", .8);
});
frame(135, 245.5, 143.7, 221);
labels(mRainY, [0,.5,1,1.5,2], 128, true, "#000", d3.format(".1f"));
labels(mHumY, [50,61,73,84,96], 253, false, HUM);

let mPresY = d3.scaleLinear().domain([1012, 1018]).range([301, 231]);
svg.append("clipPath").attr("id", "mPresClip").append("path")
  .attr("d", d3.area().x((d, i) => xm(i)).y0(306).y1(d => mPresY(d))(miniPressure));
let mPresG = svg.append("g").attr("clip-path", "url(#mPresClip)");
miniPressure.slice(0, -1).forEach((v, i) => {
  mPresG.append("rect").attr("x", xm(i)).attr("width", xm(i + 1) - xm(i) + .5).attr("y", 229).attr("height", 78).attr("fill", pressureColor(v));
});
drawGrid(svg, xm, miniHours, mPresY, [1012,1014,1016,1018], 135, 245.5, 229.3, 306);
line(svg, xm, mPresY, "#000", 2)(miniPressure);
frame(135, 245.5, 229.3, 306);
labels(mPresY, [1012,1014,1016,1018], 128, true, "#000");
labels(mPresY, [1012,1014,1016,1018], 251, false, "#000");

let mWindY = d3.scaleLinear().domain([0, 20]).range([392, 315]);
let mKmhY = d3.scaleLinear().domain([0, 72]).range([392, 315]);
svg.append("clipPath").attr("id", "mWindClip").append("path")
  .attr("d", d3.area().x((d, i) => xm(i)).y0(392).y1(d => mWindY(d))(miniWind));
let mWindG = svg.append("g").attr("clip-path", "url(#mWindClip)");
miniWind.slice(0, -1).forEach((v, i) => {
  mWindG.append("rect").attr("x", xm(i)).attr("width", xm(i + 1) - xm(i) + .5).attr("y", 316).attr("height", 76).attr("fill", windColor(v));
});
drawGrid(svg, xm, miniHours, mWindY, [0,5,10,15,20], 135, 245.5, 315.7, 392);
line(svg, xm, mWindY, "#0000a0", 2.2)(miniWind);
miniGust.forEach((v, i) => {
  if (v == null) return;
  svg.append("line").attr("x1", xm(i)).attr("x2", xm(i + 1)).attr("y1", mWindY(v)).attr("y2", mWindY(v)).attr("stroke", "#f00").attr("stroke-width", 1);
});
svg.append("rect").attr("x", xm(.55) - 1.5).attr("y", mWindY(19.6) - 1.5).attr("width", 3).attr("height", 3).attr("fill", "#f00");
frame(135, 245.5, 315.7, 392);
labels(mWindY, [0,5,10,15,20], 128, true, "#000");
labels(mKmhY, [0,18,36,54,72], 253, false, "#000");

drawGrid(svg, xm, miniHours, d3.scaleLinear().domain([0,1]).range([0,1]), [], 135, 245.5, 398.3, 429);
arrows(svg.append("g"), d3.scaleLinear().domain([0,16]).range([139,247]), miniDir, 413, 17);
frame(135, 245.5, 398.3, 429, "#777");

let mBaseY = d3.scaleLinear().domain([0,.5,2,7,15]).range([513.5,495,475,456,436]);
let mVisY = d3.scaleLinear().domain([0,1,5,20,100]).range([513.5,495,475,456,436]);
skyPanel(135, 245.5, 436, 514, [xm(5)], [xm(14)], "#80bcf0");
drawGrid(svg, xm, miniHours, mBaseY, [0,.5,2,7,15], 135, 245.5, 436, 514);
let mBaseG = svg.append("g").attr("clip-path", clipRect(135, 245.5, 436, 514));
dots(mBaseG, xd, mBaseY, miniWhite, "#fff", 2.7);
dots(mBaseG, xd, mBaseY, miniLight, "#c8c8c8", 2.7);
dots(mBaseG, xd, mBaseY, miniGrey, "#808080", 2.7);
dots(mBaseG, xd, mBaseY, miniDark, "#505050", 2.7);
dots(mBaseG, xd, mBaseY, miniBlack, "#000", 2.7);
dots(mBaseG, xd, mBaseY, miniTop, "#a02828", 2.7);
line(mBaseG, xm, mVisY, ORANGE, 2)(miniVis);
frame(135, 245.5, 436, 514);
labels(mBaseY, [0,.5,2,7,15], 128, true, "#000", d3.format(".1f"));
labels(mVisY, [0,1,5,20,100], 252, false, ORANGE);

let mCloudY = d3.scaleLinear().domain([0, 8]).range([601, 523]);
let mFracY = d3.scaleLinear().domain([0, 1]).range([601, 523]);
skyPanel(135, 245.5, 523.3, 601, [xm(5)], [xm(14)], "#80bcf0");
let mCloudG = svg.append("g").attr("clip-path", clipRect(135, 245.5, 523.3, 601));
cloudArea(mCloudG, xm, mCloudY, miniHigh, "#fff");
cloudArea(mCloudG, xm, mCloudY, miniMid, "#999");
cloudArea(mCloudG, xm, mCloudY, miniLow, "#555");
cloudArea(mCloudG, xm, mCloudY, miniVeryLow, "#333");
line(mCloudG, xm, mCloudY, "#aaa", 1)(miniMid);
line(mCloudG, xm, mCloudY, "#fff", 1)(miniHigh);
miniFogHours.forEach((h, k) => {
  mCloudG.append("rect").attr("x", xm(h) + .5).attr("width", 3).attr("y", mFracY(miniFogValues[k])).attr("height", mFracY(0) - mFracY(miniFogValues[k])).attr("fill", "#ffb000");
});
drawGrid(svg, xm, miniHours, mCloudY, [0,2,4,6,8], 135, 245.5, 523.3, 601);
frame(135, 245.5, 523.3, 601);
labels(mCloudY, [0,2,4,6,8], 128, true, "#000");
labels(mFracY, [0,.25,.5,.75,1], 253, false, ORANGE);

// small time labels
let miniTop2 = svg.append("g").attr("transform", "translate(0,53)")
  .call(d3.axisTop(xm).tickValues([4,10,16]).tickSize(0).tickPadding(0).tickFormat((d, i) => ["20","02","08"][i]));
miniTop2.select(".domain").remove();
let miniBottom = svg.append("g").attr("transform", "translate(0,604)")
  .call(d3.axisBottom(xm).tickValues([4,10,16]).tickSize(0).tickPadding(0).tickFormat((d, i) => ["18","00","06"][i]));
miniBottom.select(".domain").remove();
[miniTop2, miniBottom].forEach(a => a.selectAll("text").attr("fill", "#000").style("font-size", "12px"));

// ---- legend and leaders
svg.append("rect").attr("x", 11).attr("y", 505).attr("width", 44).attr("height", 12).attr("fill", SKY);
svg.append("rect").attr("x", 10).attr("y", 551).attr("width", 41).attr("height", 13).attr("fill", SKY);
leaders.forEach(l => {
  svg.append("path").attr("d", d3.line()(l[1])).attr("fill", "none").attr("stroke", l[0]).attr("stroke-width", 1);
});
svg.selectAll(null).data(legendTexts).join("text")
  .attr("x", d => d[0]).attr("y", d => d[1]).attr("fill", d => d[3]).style("font-size", "10.8px").text(d => d[2]);
svg.append("text").attr("x", 6).attr("y", 626).attr("fill", "#000").style("font-size", "12px").text("Czas uniwersalny (UTC)");
svg.append("text").attr("x", 5).attr("y", 651).style("font-size", "9px").style("font-weight", "bold").attr("fill", "#000").text("* powyżej poziomu morza");

// ---- rotated titles
svg.selectAll(null).data(sideTitles).join("text")
  .attr("transform", d => `translate(${d[0]},${d[1]}) rotate(-90)`)
  .attr("text-anchor", "middle").attr("fill", NAVY).text(d => d[2]);

// ---- header and footer
function centered(cx, y, t, color, size) {
  svg.append("text").attr("x", cx).attr("y", y).attr("text-anchor", "middle").attr("fill", color).style("font-size", (size || 12) + "px").text(t);
}
centered(363, 12, "wschód słońca: 04:01 CEST", NAVY, 12.4);
centered(363, 25, "zachód słońca: 21:00 CEST", NAVY, 12.4);
centered(595, 12, "21°58'4\"E, 53°57'18\"N", NAVY, 12.4);
centered(595, 25, "(x=265,  y=356)", NAVY, 12.4);
centered(818, 12, "wysokość (min, środek, max)", NAVY, 12.4);
centered(818, 25, "133 - 169 - 176 m", NAVY, 12.4);
centered(495, 41, "pon, 09.06", "#000", 13);
centered(648, 41, "wto, 10.06", "#000", 13);
centered(803, 41, "śro, 11.06", "#000", 13);
centered(320, 55, "CEST", "#000", 12.5);
centered(871, 55, "CEST", "#000", 12.5);
centered(319, 616, "UTC", "#000", 12.5);
centered(871, 616, "UTC", "#000", 12.5);
centered(495, 629, "09.06", "#000", 12.5);
centered(648, 629, "10.06", "#000", 12.5);
centered(803, 629, "11.06", "#000", 12.5);
centered(363, 652, "meteo@icm.edu.pl", NAVY, 13);
centered(749, 652, "© 2007-2025 ICM, Uniwersytet Warszawski", NAVY, 13.1);
</script>
</body>
</html>
